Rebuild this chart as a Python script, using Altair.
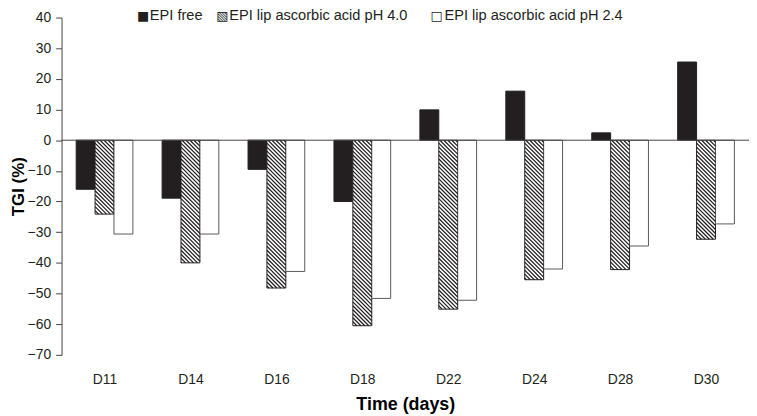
import json
import altair as alt
import pandas as pd

# ---------------- data ----------------
days = ["D11", "D14", "D16", "D18", "D22", "D24", "D28", "D30"]
epi_free = [-16.0, -18.9, -9.5, -20.0, 9.9, 16.0, 2.4, 25.5]
epi_lip_ph40 = [-24.1, -40.0, -48.2, -60.5, -55.1, -45.5, -42.2, -32.3]
epi_lip_ph24 = [-30.6, -30.6, -42.8, -51.6, -52.2, -42.0, -34.5, -27.3]
series_names = ["EPI free", "EPI lip ascorbic acid pH 4.0", "EPI lip ascorbic acid pH 2.4"]
legend_glyphs = ["\u25A0", "\u25A7", "\u25A1"]
y_ticks = list(range(-70, 41, 10))

# ---------------- layout / style ----------------
PLOT_W, PLOT_H = 693, 340
Y_DOMAIN = [-70, 40]
X_DOMAIN = [-0.5, len(days) - 0.5]
BAR_W = 0.22                      # bar width in category units
PX_X = PLOT_W / (X_DOMAIN[1] - X_DOMAIN[0])
PX_Y = PLOT_H / (Y_DOMAIN[1] - Y_DOMAIN[0])
HATCH_STEP = 4.0                  # px between hatch lines (vertical)
INK = "#231f20"
FONT = "Liberation Sans"
LEGEND_GLYPH_X = [76, 156, 372]   # px from plot left
LEGEND_TEXT_X = [89, 169, 386]
LEGEND_Y = -1.5

fills = ["#231f20", "#ffffff", "#ffffff"]
strokes = ["#231f20", "#231f20", "#58595b"]

# ---------------- tables built from the arrays ----------------
rows = []
for j, (name, vals) in enumerate(zip(series_names, [epi_free, epi_lip_ph40, epi_lip_ph24])):
    for i, (d, v) in enumerate(zip(days, vals)):
        x0 = i + (j - 1.5) * BAR_W
        rows.append({"day": d, "series": name, "x0": x0, "x1": x0 + BAR_W, "y0": 0.0, "y1": v})
bars = pd.DataFrame(rows)

# diagonal hatch segments inside each hatched bar (derived from the bar values)
hatch_rows = []
for r in rows:
    if r["series"] != series_names[1]:
        continue
    top, bot = max(r["y1"], 0.0), min(r["y1"], 0.0)
    wpx = BAR_W * PX_X
    hpx = (top - bot) * PX_Y
    c = -wpx + HATCH_STEP / 2
    while c < hpx:
        a = max(0.0, -c)
        b = min(wpx, hpx - c)
        if b - a > 0.4:
            hatch_rows.append({
                "x0": r["x0"] + a / PX_X, "y0": top - (a + c) / PX_Y,
                "x1": r["x0"] + b / PX_X, "y1": top - (b + c) / PX_Y,
            })
        c += HATCH_STEP
hatch = pd.DataFrame(hatch_rows)

x_scale = alt.Scale(domain=X_DOMAIN, nice=False, zero=False)
y_scale = alt.Scale(domain=Y_DOMAIN, nice=False, zero=False)

x_axis = alt.Axis(
    values=list(range(len(days))),
    labelExpr=json.dumps(days) + "[datum.value]",
    grid=False, domain=False, ticks=False, tickSize=0,
    labelPadding=18, labelFontSize=14, labelColor=INK, labelFont=FONT,
    labelFlush=False, labelOverlap=False, labelBound=False,
    title="Time (days)", titleFontSize=18, titleFontWeight="bold", titleColor="#000",
    titleFont=FONT, titleY=41, titleBaseline="top",
)
y_axis = alt.Axis(
    values=y_ticks, grid=False, domainColor="#444", tickColor="#444",
    tickSize=6, labelPadding=5, labelFontSize=14, labelColor=INK, labelFont=FONT,
    title="TGI (%)", titleFontSize=17, titleFontWeight="bold", titleColor="#000",
    titleFont=FONT, titleX=-43, titleY=PLOT_H / 2, titleBaseline="middle", titleAngle=-90,
)

X = alt.X("x0:Q", scale=x_scale, axis=x_axis)
Y = alt.Y("y0:Q", scale=y_scale, axis=y_axis)

bar_layer = alt.Chart(bars).mark_rect(strokeWidth=1).encode(
    x=X, x2="x1:Q", y=Y, y2="y1:Q",
    fill=alt.Fill("series:N", scale=alt.Scale(domain=series_names, range=fills), legend=None),
    stroke=alt.Stroke("series:N", scale=alt.Scale(domain=series_names, range=strokes), legend=None),
)

hatch_layer = alt.Chart(hatch).mark_rule(color=INK, strokeWidth=1.25).encode(
    x=X, x2="x1:Q", y=Y, y2="y1:Q",
)

zero_df = pd.DataFrame({"x0": [X_DOMAIN[0]], "x1": [X_DOMAIN[1]], "y0": [0.0]})
zero_layer = alt.Chart(zero_df).mark_rule(color="#444", strokeWidth=1).encode(
    x=X, x2="x1:Q", y=Y,
)

legend_layers = []
for k, name in enumerate(series_names):
    legend_layers.append(
        alt.Chart(pd.DataFrame({"t": [legend_glyphs[k]]})).mark_text(
            font="DejaVu Sans", fontSize=13, align="left", baseline="middle", color=INK
        ).encode(text="t:N", x=alt.value(LEGEND_GLYPH_X[k]), y=alt.value(LEGEND_Y))
    )
    legend_layers.append(
        alt.Chart(pd.DataFrame({"t": [name]})).mark_text(
            font=FONT, fontSize=14.7, align="left", baseline="middle", color=INK
        ).encode(text="t:N", x=alt.value(LEGEND_TEXT_X[k]), y=alt.value(LEGEND_Y))
    )

chart = alt.layer(bar_layer, hatch_layer, zero_layer, *legend_layers).properties(
    width=PLOT_W,
    height=PLOT_H,
    autosize=alt.AutoSizeParams(type="none"),
    padding={"left": 54, "top": 8, "right": 0, "bottom": 58},
    background="white",
).configure(font=FONT).configure_view(stroke=None)

chart.save("out.html", embed_options={"renderer": "svg", "actions": False})
